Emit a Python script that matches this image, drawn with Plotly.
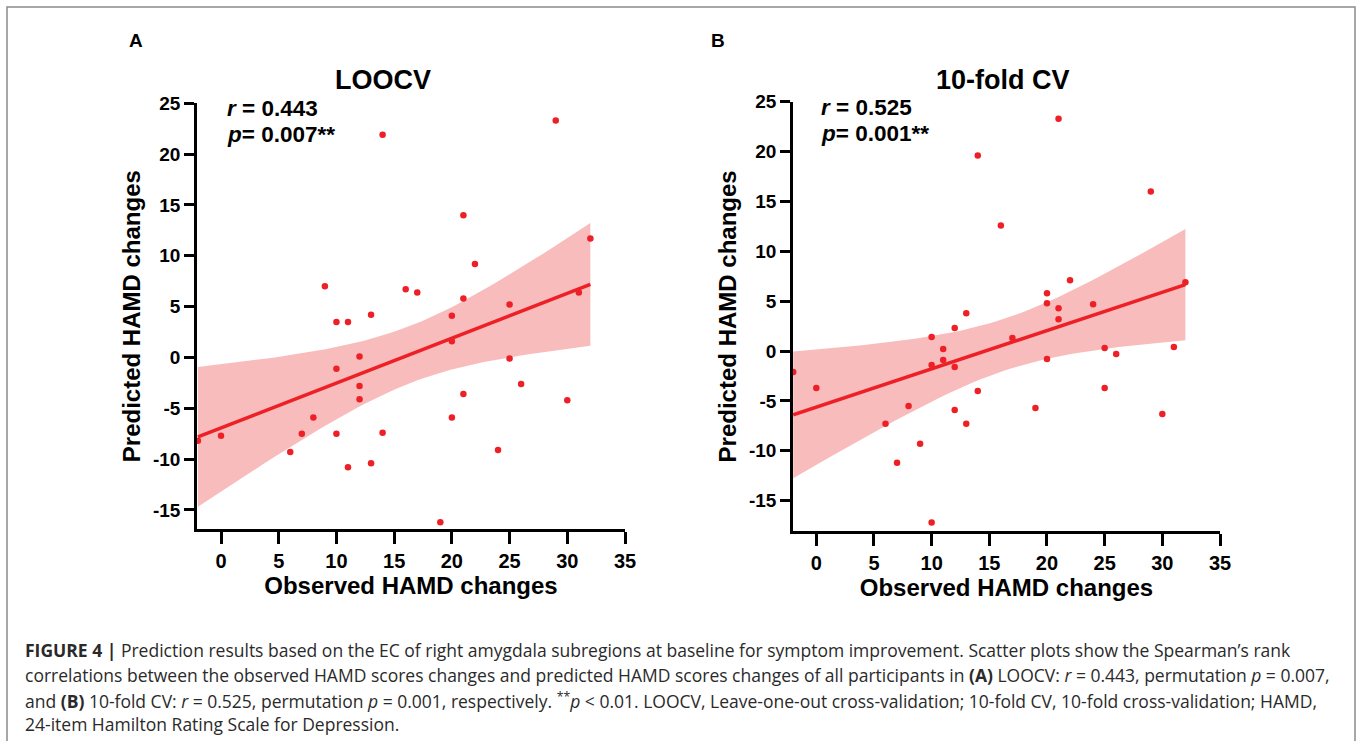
import numpy as np
import plotly.graph_objects as go

W, H = 1360, 741

# ---------------- data ----------------
observed = [-2, 0, 6, 7, 8, 9, 10, 10, 10, 11, 11, 12, 12, 12, 13, 13, 14, 14,
            16, 17, 19, 20, 20, 20, 21, 21, 21, 22, 24, 25, 25, 26, 29, 30, 31, 32]

pred_loocv = [-8.2, -7.7, -9.3, -7.5, -5.9, 7.0, 3.5, -1.1, -7.5, 3.5, -10.8,
              0.1, -2.8, -4.1, 4.2, -10.4, 21.9, -7.4, 6.7, 6.4, -16.2, 4.1, 1.6,
              -5.9, 14.0, 5.8, -3.6, 9.2, -9.1, 5.2, -0.1, -2.6, 23.3, -4.2, 6.4, 11.7]

observed_10 = [-2, 0, 6, 7, 8, 9, 10, 10, 10, 11, 11, 12, 12, 12, 13, 13, 14, 14,
               16, 17, 19, 20, 20, 20, 21, 21, 21, 22, 24, 25, 25, 26, 29, 30, 31, 32]
pred_10fold = [-2.1, -3.7, -7.3, -11.2, -5.5, -9.3, 1.4, -1.4, -17.2, 0.2, -0.9,
               2.3, -1.6, -5.9, 3.8, -7.3, 19.6, -4.0, 12.6, 1.3, -5.7, 5.8, 4.8,
               -0.8, 23.3, 4.3, 3.2, 7.1, 4.7, 0.3, -3.7, -0.3, 16.0, -6.3, 0.4, 6.9]

x_ticks = [0, 5, 10, 15, 20, 25, 30, 35]
y_ticks = [-15, -10, -5, 0, 5, 10, 15, 20, 25]
x_ticklabels = ["0", "5", "10", "15", "20", "25", "30", "35"]
y_ticklabels = ["-15", "-10", "-5", "0", "5", "10", "15", "20", "25"]

panel_titles = ["LOOCV", "10-fold CV"]
panel_letters = ["A", "B"]
stats_r = ["0.443", "0.525"]
stats_p = ["0.007**", "0.001**"]

T_CRIT = 2.032  # t(0.975, df=34)

FONT = "Arial, Liberation Sans, Helvetica, sans-serif"
CAP_FONT = "Open Sans, Arial, sans-serif"
RED = "#ee2027"
BAND = "#f8bcbc"


def px(x):
    return x / W


def py(y):
    return 1 - y / H


def fit_band(x, y, n=60):
    x = np.asarray(x, float)
    y = np.asarray(y, float)
    b, a = np.polyfit(x, y, 1)
    xs = np.linspace(x.min(), x.max(), n)
    yhat = a + b * xs
    resid = y - (a + b * x)
    s = np.sqrt(np.sum(resid ** 2) / (len(x) - 2))
    se = s * np.sqrt(1 / len(x) + (xs - x.mean()) ** 2 / np.sum((x - x.mean()) ** 2))
    return xs, yhat, yhat - T_CRIT * se, yhat + T_CRIT * se


fig = go.Figure()

panels = [
    dict(x=observed, y=pred_loocv, xd=(197, 625), yd=(529, 103.3), yr=(-16.87, 25), xr=(-2.08, 35)),
    dict(x=observed_10, y=pred_10fold, xd=(793, 1220), yd=(531, 101.7), yr=(-18.04, 25), xr=(-2.02, 35)),
]

for i, p in enumerate(panels):
    xa = "x" if i == 0 else "x2"
    ya = "y" if i == 0 else "y2"
    xs, yhat, lo, hi = fit_band(p["x"], p["y"])
    fig.add_trace(go.Scatter(x=list(xs) + list(xs[::-1]), y=list(hi) + list(lo[::-1]),
                             fill="toself", fillcolor=BAND, line=dict(width=0),
                             mode="lines", hoverinfo="skip", showlegend=False,
                             xaxis=xa, yaxis=ya))
    fig.add_trace(go.Scatter(x=xs, y=yhat, mode="lines", line=dict(color=RED, width=3.5),
                             showlegend=False, xaxis=xa, yaxis=ya))
    fig.add_trace(go.Scatter(x=p["x"], y=p["y"], mode="markers",
                             marker=dict(color=RED, size=6.5), showlegend=False,
                             xaxis=xa, yaxis=ya))

axis_common = dict(showline=True, linecolor="black", linewidth=2.5, ticks="outside",
                   tickwidth=2.5, tickcolor="black", showgrid=False, zeroline=False,
                   automargin=False)

for i, p in enumerate(panels):
    sx = "" if i == 0 else "2"
    fig.layout["xaxis" + sx] = dict(
        axis_common, domain=[px(p["xd"][0]), px(p["xd"][1])], range=list(p["xr"]),
        tickvals=x_ticks, ticktext=x_ticklabels, anchor="y" + sx, ticklen=12,
        tickfont=dict(family=FONT, size=20, color="black", weight="bold"),
        title=dict(text="Observed HAMD changes", standoff=4,
                   font=dict(family=FONT, size=24, color="black", weight="bold")))
    fig.layout["yaxis" + sx] = dict(
        axis_common, domain=[py(p["yd"][0]), py(p["yd"][1])], range=list(p["yr"]),
        tickvals=y_ticks, ticktext=y_ticklabels, anchor="x" + sx, ticklen=10,
        tickfont=dict(family=FONT, size=19, color="black", weight="bold"),
        title=dict(text="Predicted HAMD changes", standoff=6,
                   font=dict(family=FONT, size=24, color="black", weight="bold")))

ann = []
letter_pos = [(136, 41), (718, 41)]
title_pos = [(383, 80), (1003, 80)]
stat_pos = [(226, 108.5, 134.5), (820, 107.5, 133.5)]
for i in range(2):
    ann.append(dict(text="<b>%s</b>" % panel_letters[i], x=px(letter_pos[i][0]), y=py(letter_pos[i][1]),
                    xref="paper", yref="paper", showarrow=False, xanchor="center", yanchor="middle",
                    font=dict(family=FONT, size=19, color="black")))
    ann.append(dict(text="<b>%s</b>" % panel_titles[i], x=px(title_pos[i][0]), y=py(title_pos[i][1]),
                    xref="paper", yref="paper", showarrow=False, xanchor="center", yanchor="middle",
                    font=dict(family=FONT, size=27, color="black")))
    ann.append(dict(text="<b><i>r</i> = %s</b>" % stats_r[i], x=px(stat_pos[i][0]), y=py(stat_pos[i][1]),
                    xref="paper", yref="paper", showarrow=False, xanchor="left", yanchor="middle",
                    borderpad=0, font=dict(family=FONT, size=22.5, color="black")))
    ann.append(dict(text="<b><i>p</i>= %s</b>" % stats_p[i], x=px(stat_pos[i][0]), y=py(stat_pos[i][2]),
                    xref="paper", yref="paper", showarrow=False, xanchor="left", yanchor="middle",
                    borderpad=0, font=dict(family=FONT, size=22.5, color="black")))

caption_lines = [
    "<b>FIGURE 4 |</b> Prediction results based on the EC of right amygdala subregions at baseline for symptom improvement. Scatter plots show the Spearman’s rank",
    "correlations between the observed HAMD scores changes and predicted HAMD scores changes of all participants in <b>(A)</b> LOOCV: <i>r</i> = 0.443, permutation <i>p</i> = 0.007,",
    "and <b>(B)</b> 10-fold CV: <i>r</i> = 0.525, permutation <i>p</i> = 0.001, respectively. <sup>**</sup><i>p</i> &lt; 0.01. LOOCV, Leave-one-out cross-validation; 10-fold CV, 10-fold cross-validation; HAMD,",
    "24-item Hamilton Rating Scale for Depression.",
]
cap_y = [650, 675, 700, 724]
for t, yy in zip(caption_lines, cap_y):
    ann.append(dict(text=t, x=px(24), y=py(yy), xref="paper", yref="paper", showarrow=False,
                    xanchor="left", yanchor="middle", borderpad=0,
                    font=dict(family=CAP_FONT, size=17.5, color="#2a2a2a")))

fig.update_layout(
    width=W, height=H, margin=dict(l=0, r=0, t=0, b=0, pad=0, autoexpand=False),
    paper_bgcolor="white", plot_bgcolor="white",
    annotations=ann,
    shapes=[dict(type="rect", xref="paper", yref="paper", x0=px(7), x1=px(1355), y0=-0.02, y1=py(7),
                 line=dict(color="#8a8a8a", width=1.5))],
)

fig.write_html("out.html", config={"displayModeBar": False},
               post_script="document.body.style.margin='0';document.body.style.overflow='hidden';")
